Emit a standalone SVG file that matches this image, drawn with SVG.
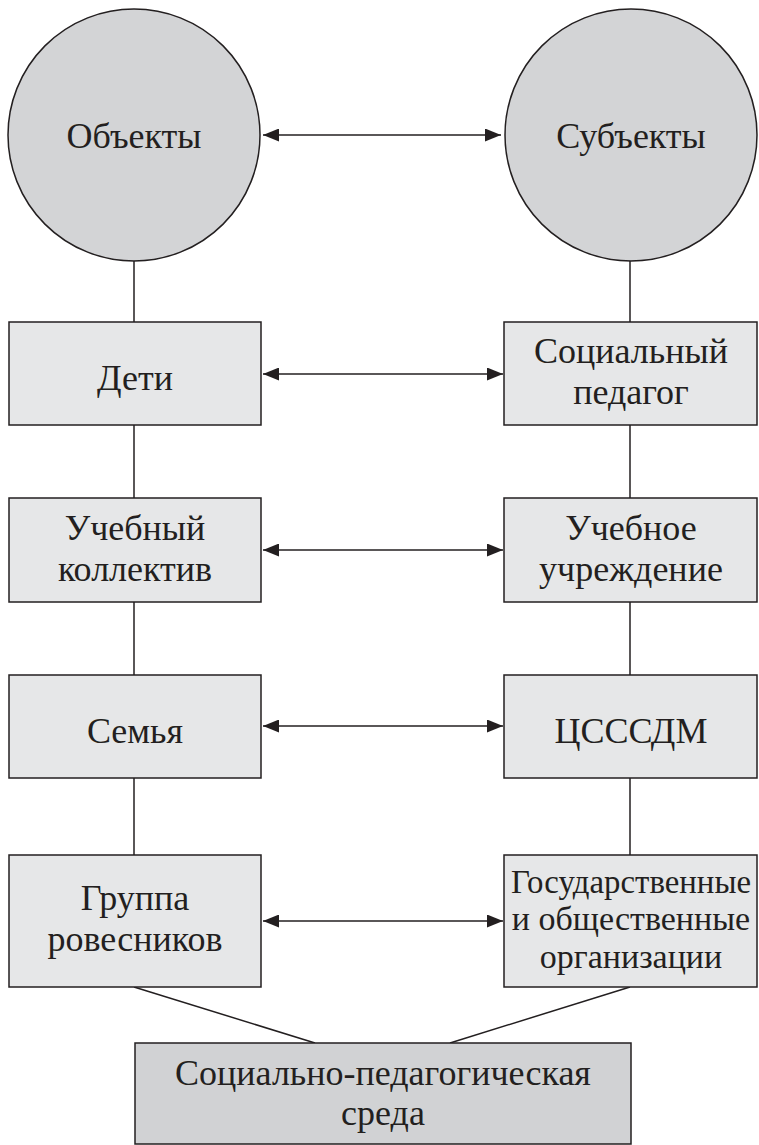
<svg xmlns="http://www.w3.org/2000/svg" width="759" height="1145" viewBox="0 0 759 1145">
<style>
.c{fill:#d3d4d6;stroke:#231f20;stroke-width:1.5}
.r{fill:#e6e7e8;stroke:#231f20;stroke-width:1.5}
.b{fill:#d1d2d4;stroke:#231f20;stroke-width:1.5}
.l{stroke:#231f20;stroke-width:1.5;fill:none}
.a{stroke:#231f20;stroke-width:1.5;fill:none;marker-start:url(#h);marker-end:url(#h)}
text{font-family:"Liberation Serif","Times New Roman",serif;font-size:36px;fill:#231f20;text-anchor:middle}
.s{font-size:34px}
</style>
<defs>
<marker id="h" viewBox="0 0 16 13" refX="16" refY="6.5" markerWidth="16" markerHeight="13" markerUnits="userSpaceOnUse" orient="auto-start-reverse">
<path d="M0,0 L16,6.5 L0,13 Z" fill="#231f20"/>
</marker>
</defs>
<g id="connectors">
<line class="l" x1="134" y1="261" x2="134" y2="322"/>
<line class="l" x1="630" y1="261" x2="630" y2="322"/>
<line class="l" x1="134" y1="425" x2="134" y2="498"/>
<line class="l" x1="630" y1="425" x2="630" y2="498"/>
<line class="l" x1="134" y1="602" x2="134" y2="675"/>
<line class="l" x1="630" y1="602" x2="630" y2="675"/>
<line class="l" x1="134" y1="778" x2="134" y2="855"/>
<line class="l" x1="630" y1="778" x2="630" y2="855"/>
<line class="l" x1="134" y1="987" x2="315" y2="1043"/>
<line class="l" x1="630" y1="987" x2="450" y2="1043"/>
<line class="a" x1="263" y1="135" x2="501" y2="135"/>
<line class="a" x1="263" y1="374" x2="503" y2="374"/>
<line class="a" x1="263" y1="550" x2="503" y2="550"/>
<line class="a" x1="263" y1="726" x2="503" y2="726"/>
<line class="a" x1="263" y1="921" x2="503" y2="921"/>
</g>
<g id="objects"><circle class="c" cx="134" cy="135" r="126"/><text x="134" y="148">Объекты</text></g>
<g id="subjects"><circle class="c" cx="631" cy="135" r="126"/><text x="631" y="148">Субъекты</text></g>
<g id="children"><rect class="r" x="9" y="322" width="252" height="103"/><text x="135" y="390">Дети</text></g>
<g id="social-pedagogue"><rect class="r" x="504" y="322" width="253" height="103"/><text x="631" y="363">Социальный</text><text x="631" y="404">педагог</text></g>
<g id="class"><rect class="r" x="9" y="498" width="252" height="104"/><text x="135" y="540">Учебный</text><text x="135" y="581">коллектив</text></g>
<g id="school"><rect class="r" x="504" y="498" width="253" height="104"/><text x="631" y="540">Учебное</text><text x="631" y="581">учреждение</text></g>
<g id="family"><rect class="r" x="9" y="675" width="252" height="103"/><text x="135" y="743">Семья</text></g>
<g id="csssdm"><rect class="r" x="504" y="675" width="253" height="103"/><text x="631" y="743">ЦСССДМ</text></g>
<g id="peers"><rect class="r" x="9" y="855" width="252" height="132"/><text x="135" y="910">Группа</text><text x="135" y="951">ровесников</text></g>
<g id="organizations"><rect class="r" x="504" y="855" width="253" height="132"/><text class="s" x="631" y="893" textLength="240" lengthAdjust="spacingAndGlyphs">Государственные</text><text class="s" x="631" y="930">и общественные</text><text class="s" x="631" y="968">организации</text></g>
<g id="environment"><rect class="b" x="135" y="1043" width="496" height="101"/><text x="383" y="1085">Социально-педагогическая</text><text x="383" y="1125">среда</text></g>
</svg>
